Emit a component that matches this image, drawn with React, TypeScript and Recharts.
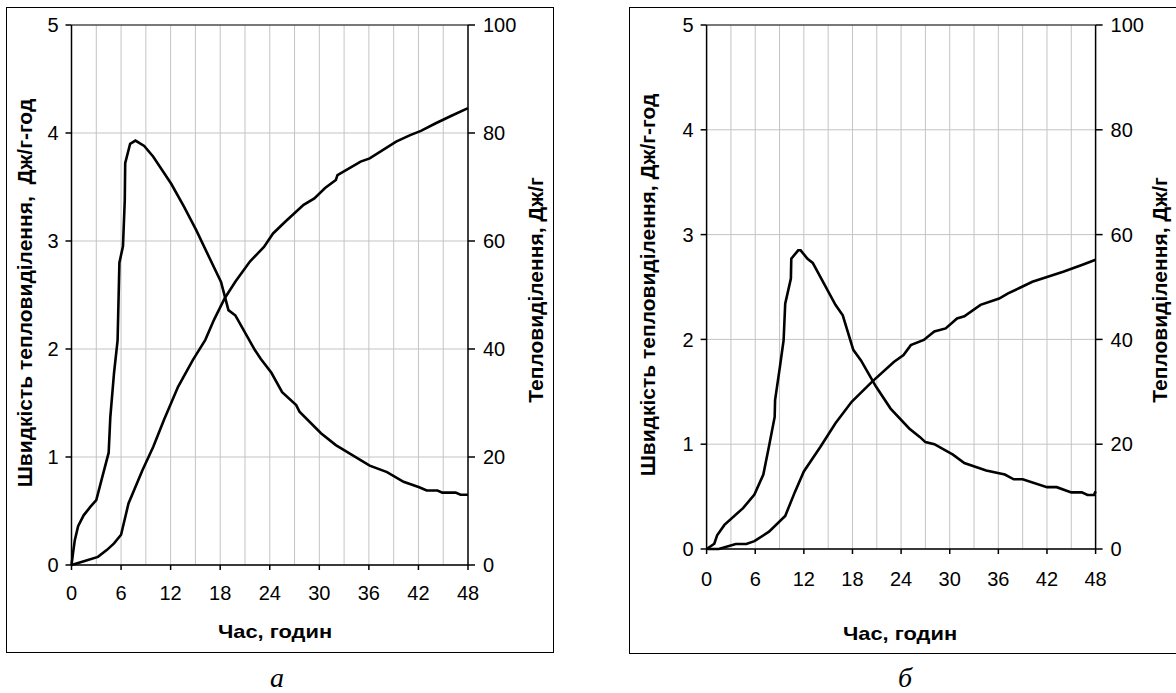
import React from "react";
import {
  LineChart,
  Line,
  XAxis,
  YAxis,
  CartesianGrid,
  ReferenceLine,
} from "recharts";

// ---- data (hours, value) ----
const hourTicks = [0, 6, 12, 18, 24, 30, 36, 42, 48];
const gridHours = [3, 6, 9, 12, 15, 18, 21, 24, 27, 30, 33, 36, 39, 42, 45];
const rateTicks = [0, 1, 2, 3, 4, 5];
const heatTicks = [0, 20, 40, 60, 80, 100];

// chart а: rate of heat release, J/g·h
const rateA = [
  { h: 0, v: 0 }, { h: 0.2, v: 0.12 }, { h: 0.4, v: 0.23 }, { h: 0.8, v: 0.36 },
  { h: 1.47, v: 0.46 }, { h: 2.3, v: 0.54 }, { h: 3.0, v: 0.6 }, { h: 3.85, v: 0.85 },
  { h: 4.5, v: 1.04 }, { h: 4.7, v: 1.37 }, { h: 5.15, v: 1.78 }, { h: 5.58, v: 2.08 },
  { h: 5.8, v: 2.8 }, { h: 6.23, v: 2.95 }, { h: 6.45, v: 3.38 }, { h: 6.5, v: 3.72 },
  { h: 7.1, v: 3.9 }, { h: 7.74, v: 3.93 }, { h: 8.8, v: 3.88 }, { h: 9.9, v: 3.78 },
  { h: 12.07, v: 3.53 }, { h: 13.6, v: 3.32 }, { h: 15.1, v: 3.1 }, { h: 18.1, v: 2.62 },
  { h: 19.0, v: 2.36 }, { h: 19.85, v: 2.31 }, { h: 22.2, v: 1.99 }, { h: 22.9, v: 1.91 },
  { h: 24.2, v: 1.78 }, { h: 25.5, v: 1.6 }, { h: 27.2, v: 1.48 }, { h: 27.6, v: 1.42 },
  { h: 30.2, v: 1.22 }, { h: 32.0, v: 1.11 }, { h: 36.1, v: 0.92 }, { h: 38.2, v: 0.86 },
  { h: 40.2, v: 0.77 }, { h: 42.1, v: 0.72 }, { h: 43.0, v: 0.69 }, { h: 44.3, v: 0.69 },
  { h: 44.9, v: 0.67 }, { h: 46.5, v: 0.67 }, { h: 47.1, v: 0.65 }, { h: 48, v: 0.65 },
];

// chart а: cumulative heat, J/g
const heatA = [
  { h: 0, v: 0 }, { h: 1.5, v: 0.7 }, { h: 3.2, v: 1.5 }, { h: 4.3, v: 2.8 },
  { h: 5.15, v: 4.0 }, { h: 6.0, v: 5.6 }, { h: 6.9, v: 11.4 }, { h: 8.6, v: 17.6 },
  { h: 9.9, v: 21.9 }, { h: 11.2, v: 26.9 }, { h: 12.9, v: 33.0 }, { h: 14.7, v: 38.0 },
  { h: 16.2, v: 41.7 }, { h: 17.25, v: 45.4 }, { h: 18.55, v: 49.4 }, { h: 19.85, v: 52.5 },
  { h: 21.6, v: 56.2 }, { h: 23.3, v: 58.9 }, { h: 24.4, v: 61.4 }, { h: 25.9, v: 63.6 },
  { h: 28.1, v: 66.7 }, { h: 29.4, v: 67.9 }, { h: 30.7, v: 69.8 }, { h: 32.0, v: 71.3 },
  { h: 32.2, v: 72.2 }, { h: 35.0, v: 74.7 }, { h: 36.1, v: 75.3 }, { h: 39.3, v: 78.4 },
  { h: 41.0, v: 79.6 }, { h: 42.3, v: 80.4 }, { h: 44.1, v: 81.8 }, { h: 46.0, v: 83.2 },
  { h: 48, v: 84.6 },
];

// chart б: rate of heat release, J/g·h
const rateB = [
  { h: 0, v: 0 }, { h: 0.95, v: 0.05 }, { h: 1.3, v: 0.13 }, { h: 2.2, v: 0.23 },
  { h: 4.5, v: 0.39 }, { h: 5.9, v: 0.52 }, { h: 7.0, v: 0.71 }, { h: 7.7, v: 0.98 },
  { h: 8.4, v: 1.26 }, { h: 8.45, v: 1.42 }, { h: 9.05, v: 1.74 }, { h: 9.5, v: 1.99 },
  { h: 9.7, v: 2.34 }, { h: 10.4, v: 2.58 }, { h: 10.45, v: 2.77 }, { h: 11.3, v: 2.85 },
  { h: 11.6, v: 2.85 }, { h: 12.45, v: 2.77 }, { h: 13.1, v: 2.73 }, { h: 15.9, v: 2.33 },
  { h: 16.8, v: 2.23 }, { h: 18.1, v: 1.9 }, { h: 19.05, v: 1.8 }, { h: 20.9, v: 1.55 },
  { h: 22.7, v: 1.34 }, { h: 25.0, v: 1.15 }, { h: 26.3, v: 1.07 }, { h: 27.0, v: 1.02 },
  { h: 28.1, v: 1.0 }, { h: 30.4, v: 0.9 }, { h: 31.8, v: 0.82 }, { h: 34.5, v: 0.75 },
  { h: 36.8, v: 0.71 }, { h: 37.9, v: 0.665 }, { h: 39.0, v: 0.665 }, { h: 42.0, v: 0.59 },
  { h: 43.2, v: 0.59 }, { h: 45.0, v: 0.54 }, { h: 46.3, v: 0.54 }, { h: 47.0, v: 0.515 },
  { h: 47.8, v: 0.515 }, { h: 48, v: 0.55 },
];

// chart б: cumulative heat, J/g
const heatB = [
  { h: 0, v: 0 }, { h: 1.5, v: 0 }, { h: 3.6, v: 0.95 }, { h: 4.9, v: 0.95 },
  { h: 5.9, v: 1.5 }, { h: 7.7, v: 3.3 }, { h: 9.7, v: 6.3 }, { h: 10.9, v: 10.9 },
  { h: 12.0, v: 14.8 }, { h: 14.05, v: 19.5 }, { h: 15.9, v: 24.0 }, { h: 17.9, v: 28.1 },
  { h: 20.4, v: 31.9 }, { h: 23.1, v: 35.7 }, { h: 24.3, v: 37.0 }, { h: 25.2, v: 38.9 },
  { h: 26.8, v: 39.9 }, { h: 28.1, v: 41.5 }, { h: 29.5, v: 42.1 }, { h: 30.9, v: 44.0 },
  { h: 31.8, v: 44.4 }, { h: 33.8, v: 46.6 }, { h: 36.1, v: 47.8 }, { h: 37.2, v: 48.8 },
  { h: 38.6, v: 49.8 }, { h: 40.2, v: 51.0 }, { h: 44.0, v: 52.9 }, { h: 46.3, v: 54.2 },
  { h: 48, v: 55.2 },
];

const xTitle = "Час, годин";
const yLeftTitleA = "Швидкість тепловиділення,  Дж/г-год";
const yLeftTitleB = "Швидкість тепловиділення, Дж/г-год";
const yRightTitle = "Тепловиділення, Дж/г";

const FONT = "Arial, 'Liberation Sans', sans-serif";
const tickStyle = { fill: "#000", fontSize: 20, fontFamily: FONT };

type PanelProps = {
  left: number;
  width: number;
  margin: { top: number; right: number; bottom: number; left: number };
  xTickMargin: number;
  rate: { h: number; v: number }[];
  heat: { h: number; v: number }[];
};

function Panel({ left, width, margin, xTickMargin, rate, heat }: PanelProps) {
  return (
    <div style={{ position: "absolute", left, top: 0 }}>
      <LineChart width={width} height={693} margin={margin}>
        <CartesianGrid
          yAxisId="rate"
          vertical={false}
          stroke="#c4c4c4"
          strokeWidth={1}
        />
        <XAxis
          type="number"
          dataKey="h"
          domain={[0, 48]}
          ticks={hourTicks}
          interval={0}
          tickSize={5}
          tickMargin={xTickMargin}
          height={40}
          stroke="#000"
          strokeWidth={1.5}
          tick={tickStyle}
        />
        <YAxis
          yAxisId="rate"
          orientation="left"
          domain={[0, 5]}
          ticks={rateTicks}
          interval={0}
          width={60}
          tickSize={6}
          tickMargin={7}
          stroke="#000"
          strokeWidth={1.5}
          tick={tickStyle}
        />
        <YAxis
          yAxisId="heat"
          orientation="right"
          domain={[0, 100]}
          ticks={heatTicks}
          interval={0}
          width={60}
          tickSize={7}
          tickMargin={8}
          stroke="#000"
          strokeWidth={1.5}
          tick={tickStyle}
        />
        {gridHours.map((h) => (
          <ReferenceLine
            key={h}
            x={h}
            yAxisId="rate"
            stroke="#c4c4c4"
            strokeWidth={1}
          />
        ))}
        <ReferenceLine yAxisId="rate" y={5} stroke="#111" strokeWidth={1.2} />
        <Line
          data={rate}
          dataKey="v"
          yAxisId="rate"
          type="linear"
          stroke="#000"
          strokeWidth={2.6}
          dot={false}
          isAnimationActive={false}
        />
        <Line
          data={heat}
          dataKey="v"
          yAxisId="heat"
          type="linear"
          stroke="#000"
          strokeWidth={2.6}
          dot={false}
          isAnimationActive={false}
        />
      </LineChart>
    </div>
  );
}

const vTitle = (text: string, cx: number, cy: number) => (
  <div
    style={{
      position: "absolute",
      left: cx,
      top: cy,
      transform: "translate(-50%, -50%) rotate(-90deg)",
      whiteSpace: "pre",
      fontFamily: FONT,
      fontWeight: "bold",
      fontSize: 21,
      color: "#000",
      lineHeight: "22px",
    }}
  >
    {text}
  </div>
);

const hTitle = (text: string, cx: number, cy: number) => (
  <div
    style={{
      position: "absolute",
      left: cx,
      top: cy,
      transform: "translate(-50%, -50%) scaleX(1.15)",
      whiteSpace: "pre",
      fontFamily: FONT,
      fontWeight: "bold",
      fontSize: 19,
      color: "#000",
      lineHeight: "20px",
    }}
  >
    {text}
  </div>
);

const caption = (text: string, cx: number, cy: number) => (
  <div
    style={{
      position: "absolute",
      left: cx,
      top: cy,
      transform: "translate(-50%, -50%)",
      fontFamily: "'Liberation Serif', 'Times New Roman', serif",
      fontStyle: "italic",
      fontSize: 28,
      color: "#000",
      lineHeight: "30px",
    }}
  >
    {text}
  </div>
);

export default function App() {
  return (
    <div
      style={{
        position: "absolute",
        left: 0,
        top: 0,
        width: 1176,
        height: 693,
        background: "#fff",
        overflow: "hidden",
      }}
    >
      {/* frames */}
      <div
        style={{
          position: "absolute",
          left: 6,
          top: 7,
          width: 548,
          height: 646,
          border: "1.5px solid #000",
          boxSizing: "border-box",
        }}
      />
      <div
        style={{
          position: "absolute",
          left: 629,
          top: 7,
          width: 560,
          height: 647,
          border: "1.5px solid #000",
          boxSizing: "border-box",
        }}
      />

      <Panel
        left={0}
        width={560}
        margin={{ top: 25, right: 32, bottom: 88, left: 11.5 }}
        xTickMargin={16}
        rate={rateA}
        heat={heatA}
      />
      <Panel
        left={600}
        width={576}
        margin={{ top: 25, right: 20.4, bottom: 104, left: 46.6 }}
        xTickMargin={18}
        rate={rateB}
        heat={heatB}
      />

      {vTitle(yLeftTitleA, 25, 293)}
      {vTitle(yRightTitle, 536, 290)}
      {hTitle(xTitle, 275, 632)}
      {caption("а", 277, 678)}

      {vTitle(yLeftTitleB, 648, 285)}
      {vTitle(yRightTitle, 1160, 290)}
      {hTitle(xTitle, 900, 634)}
      {caption("б", 905, 678)}
    </div>
  );
}
